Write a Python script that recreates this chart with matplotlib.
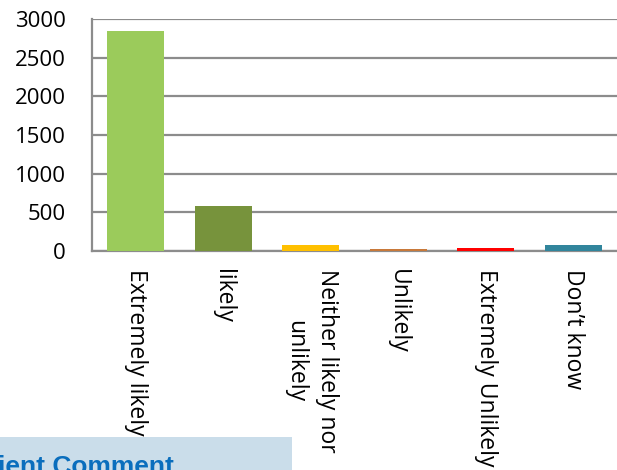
import matplotlib
matplotlib.use("Agg")
import matplotlib.pyplot as plt
from matplotlib.patches import Rectangle

categories = ["Extremely likely", "likely", "Neither likely nor\nunlikely",
              "Unlikely", "Extremely Unlikely", "Don\u2019t know"]
values = [2845, 582, 78, 26, 39, 78]
colors = ["#9BCB5B", "#77933C", "#FFC000", "#C8793A", "#FF0000", "#31859C"]
yticks = [0, 500, 1000, 1500, 2000, 2500, 3000]
banner_text = "ient Comment"

plt.rcParams["font.family"] = ["Open Sans", "DejaVu Sans"]

W, H = 617, 470
fig = plt.figure(figsize=(W / 100, H / 100), dpi=100)
ax = fig.add_axes([92 / W, (H - 251) / H, (W - 92) / W, (251 - 19) / H])

x = range(len(categories))
ax.bar(x, values, width=0.65, color=colors, zorder=3)
ax.set_xlim(-0.5, len(categories) - 0.5)
ax.set_ylim(0, 3000)
ax.set_yticks(yticks)
ax.set_yticklabels([str(v) for v in yticks], fontsize=16)
ax.set_xticks(list(x))
ax.set_xticklabels(categories, rotation=270, fontsize=16.5, va="top", ha="center",
                   linespacing=1.45)
ax.tick_params(axis="y", length=0, pad=19)
ax.tick_params(axis="x", length=0, pad=13)
ax.grid(axis="y", color="#8C8C8C", linewidth=1.6, zorder=0)
for s in ["top", "right"]:
    ax.spines[s].set_visible(False)
ax.spines["left"].set_color("#8C8C8C")
ax.spines["left"].set_linewidth(1.6)
ax.spines["bottom"].set_color("#8C8C8C")
ax.spines["bottom"].set_linewidth(1.6)

# banner at bottom-left (drawn over the tick labels)
fig.patches.append(Rectangle((0, 0), 292 / W, (H - 437) / H, transform=fig.transFigure,
                             facecolor="#CADDEA", edgecolor="none", zorder=10))
fig.text(-2 / W, (H - 474) / H, banner_text, fontsize=19, fontweight="bold",
         color="#0A6EBD", family=["Liberation Sans", "DejaVu Sans"],
         ha="left", va="baseline", zorder=11)

fig.savefig("out.png", dpi=100)
